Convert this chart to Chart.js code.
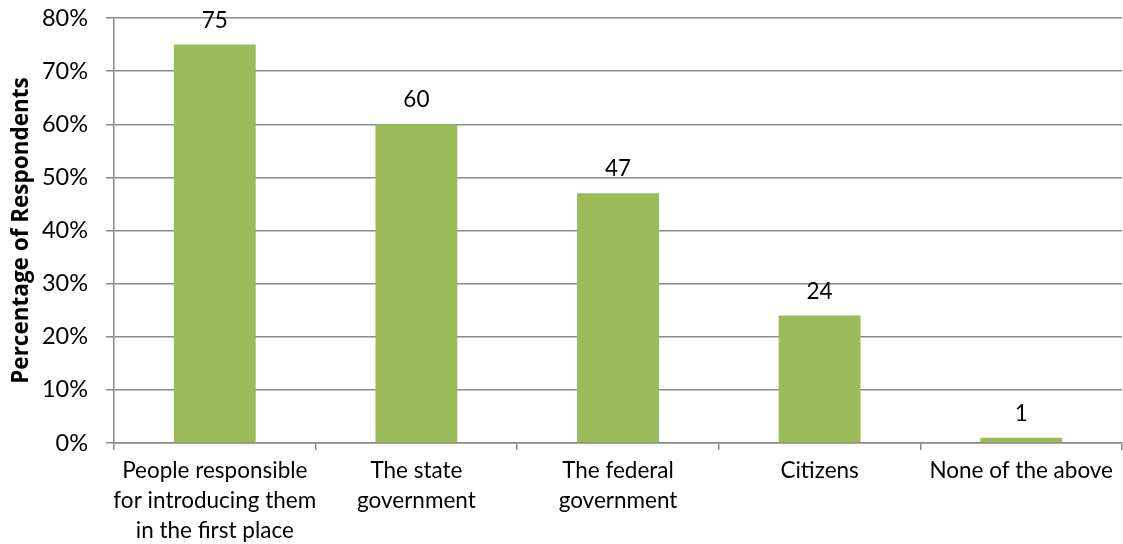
<!DOCTYPE html>
<html lang="en">
<head>
  <meta charset="UTF-8" />
  <title>Percentage of Respondents</title>
  <script src="https://cdn.jsdelivr.net/npm/chart.js@4/dist/chart.umd.min.js"></script>
  <style>
    html, body { margin: 0; padding: 0; background: #fff; }
    #wrap { width: 1123px; height: 544px; position: relative; }
  </style>
</head>
<body>
  <div id="wrap"><canvas id="chart"></canvas></div>

  <script>
    const categories = [
      ["People responsible", "for introducing them", "in the first place"],
      ["The state", "government"],
      ["The federal", "government"],
      ["Citizens"],
      ["None of the above"]
    ];
    const values = [75, 60, 47, 24, 1];
    const yTicks = [0, 10, 20, 30, 40, 50, 60, 70, 80];

    const FONT = "Lato, 'Liberation Sans', sans-serif";
    const GRID = "#8a8a8a";

    // value labels above each bar
    const barLabels = {
      id: "barLabels",
      afterDatasetsDraw(chart) {
        const ctx = chart.ctx;
        const meta = chart.getDatasetMeta(0);
        ctx.save();
        ctx.font = "22.5px " + FONT;
        ctx.fillStyle = "#000";
        ctx.textAlign = "center";
        ctx.textBaseline = "alphabetic";
        meta.data.forEach((bar, i) => {
          ctx.fillText(String(values[i]), bar.x, bar.y - 17);
        });
        ctx.restore();
      }
    };

    new Chart(document.getElementById("chart"), {
      type: "bar",
      data: {
        labels: categories,
        datasets: [{
          data: values,
          backgroundColor: "#9bbb59",
          borderWidth: 0,
          categoryPercentage: 1,
          barPercentage: 0.406
        }]
      },
      options: {
        responsive: true,
        maintainAspectRatio: false,
        animation: false,
        layout: { padding: { top: 18, right: 1, left: 0, bottom: 0 } },
        plugins: { legend: { display: false }, tooltip: { enabled: false } },
        scales: {
          x: {
            offset: true,
            grid: {
              offset: true,
              drawOnChartArea: false,
              drawTicks: true,
              tickLength: 7,
              color: GRID,
              lineWidth: 1.5
            },
            border: { color: GRID, width: 1.5 },
            ticks: {
              color: "#000",
              font: { family: FONT, size: 22.5, lineHeight: "30px" },
              padding: 6,
              maxRotation: 0,
              autoSkip: false
            },
            afterFit(scale) { scale.height = 101; }
          },
          y: {
            min: 0,
            max: 80,
            afterBuildTicks(scale) { scale.ticks = yTicks.map(v => ({ value: v })); },
            grid: { color: GRID, lineWidth: 1.5, tickLength: 8 },
            border: { color: GRID, width: 1.5 },
            ticks: {
              color: "#000",
              font: { family: FONT, size: 23.5 },
              padding: 18,
              callback: v => v + "%"
            },
            title: {
              display: true,
              text: "Percentage of Respondents",
              color: "#000",
              font: { family: "'Open Sans', sans-serif", size: 22.5, weight: "bold" },
              padding: { top: 8, bottom: 4 }
            },
            afterFit(scale) {
              scale.width = 114;
              scale.paddingTop = 0;
              scale.paddingBottom = 0;
            }
          }
        }
      },
      plugins: [barLabels]
    });
  </script>
</body>
</html>
